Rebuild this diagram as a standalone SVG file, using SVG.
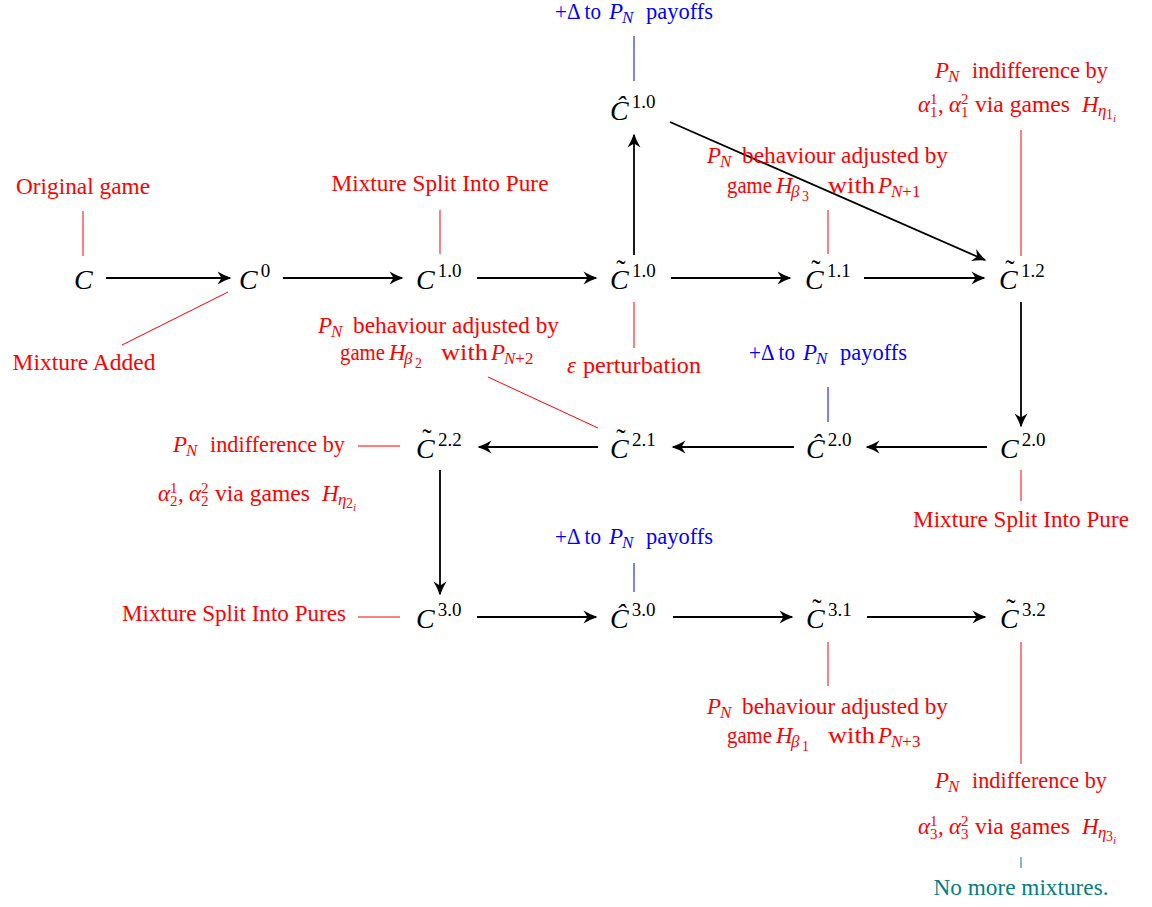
<svg xmlns="http://www.w3.org/2000/svg" width="1152" height="907" viewBox="0 0 1152 907">
<style>
text { font-family: "Liberation Serif", "Times New Roman", serif; }
.lbl { font-size: 23px; }
.r { fill: #ff0000; }
.b { fill: #0000ff; }
.t { fill: #008080; }
.it { font-style: italic; }
.lbl .sub { font-size: 17px; }
.lbl .sc { font-size: 15px; }
.lbl .ss { font-size: 14px; }
.lbl .sss { font-size: 11px; }
.node { fill: #000; }
.node .nc { font-size: 28px; font-style: italic; }
.node .sup { font-size: 19px; font-style: normal; }
.node .acc { font-size: 28px; font-style: normal; }
.mid { text-anchor: middle; }
.arr { stroke: #000; stroke-width: 1.8; fill: none; marker-end: url(#ah); }
.lr { stroke: #ff0000; stroke-width: 1; }
.lb { stroke: #0000ff; stroke-width: 1; }
.lt { stroke: #008080; stroke-width: 1; }
</style>
<defs>
<marker id="ah" markerUnits="userSpaceOnUse" viewBox="-15 -8 17 16" refX="0" refY="0" markerWidth="17" markerHeight="16" orient="auto">
<path d="M1.5,0 Q-6,-2.5 -12.5,-6.5 L-8.5,0 L-12.5,6.5 Q-6,2.5 1.5,0 Z" fill="#000"/>
</marker>
</defs>
<rect width="1152" height="907" fill="#fff"/>

<g id="connectors">
<line class="arr" x1="106" y1="278" x2="230" y2="278"/>
<line class="arr" x1="283" y1="278" x2="402" y2="278"/>
<line class="arr" x1="477" y1="278" x2="596" y2="278"/>
<line class="arr" x1="671" y1="278" x2="790" y2="278"/>
<line class="arr" x1="864" y1="278" x2="984" y2="278"/>
<line class="arr" x1="634" y1="255" x2="634" y2="135"/>
<line class="arr" x1="670" y1="122" x2="985" y2="260"/>
<line class="arr" x1="1021" y1="302" x2="1021" y2="426"/>
<line class="arr" x1="987" y1="447" x2="867" y2="447"/>
<line class="arr" x1="794" y1="447" x2="673" y2="447"/>
<line class="arr" x1="598" y1="447" x2="479" y2="447"/>
<line class="arr" x1="440" y1="470" x2="440" y2="594"/>
<line class="arr" x1="477" y1="617" x2="596" y2="617"/>
<line class="arr" x1="673" y1="617" x2="792" y2="617"/>
<line class="arr" x1="867" y1="617" x2="985" y2="617"/>
<line class="lr" x1="83" y1="211" x2="83" y2="256"/>
<line class="lr" x1="228" y1="292" x2="122" y2="345"/>
<line class="lr" x1="440" y1="210" x2="440" y2="254"/>
<line class="lb" x1="634" y1="36" x2="634" y2="81"/>
<line class="lr" x1="1021" y1="130" x2="1021" y2="256"/>
<line class="lr" x1="828" y1="210" x2="828" y2="254"/>
<line class="lr" x1="634" y1="302" x2="634" y2="348"/>
<line class="lr" x1="598" y1="428" x2="488" y2="377"/>
<line class="lb" x1="828" y1="387" x2="828" y2="422"/>
<line class="lr" x1="358" y1="446" x2="400" y2="446"/>
<line class="lr" x1="1021" y1="470" x2="1021" y2="501"/>
<line class="lb" x1="634" y1="563" x2="634" y2="592"/>
<line class="lr" x1="358" y1="617" x2="400" y2="617"/>
<line class="lr" x1="828" y1="642" x2="828" y2="686"/>
<line class="lr" x1="1021" y1="642" x2="1021" y2="764"/>
<line class="lt" x1="1021" y1="857" x2="1021" y2="868"/>
</g>

<!-- nodes -->
<g id="n-C" class="node"><text class="nc" x="74" y="289">C</text></g>
<g id="n-C0" class="node"><text class="nc" x="239" y="289">C<tspan class="sup" dx="3" dy="-12">0</tspan></text></g>
<g id="n-C10" class="node"><text class="nc" x="416" y="289">C<tspan class="sup" dx="3" dy="-12">1.0</tspan></text></g>
<g id="n-Ct10" class="node"><text class="nc" x="610" y="289">C<tspan class="acc" dx="-12.5" dy="-10">˜</tspan><tspan class="sup" dx="6.5" dy="-2">1.0</tspan></text></g>
<g id="n-Ct11" class="node"><text class="nc" x="805" y="289">C<tspan class="acc" dx="-12.5" dy="-10">˜</tspan><tspan class="sup" dx="6.5" dy="-2">1.1</tspan></text></g>
<g id="n-Ct12" class="node"><text class="nc" x="999" y="289">C<tspan class="acc" dx="-12.5" dy="-10">˜</tspan><tspan class="sup" dx="6.5" dy="-2">1.2</tspan></text></g>
<g id="n-Ch10" class="node"><text class="nc" x="610" y="120">Ĉ<tspan class="sup" dx="3" dy="-12">1.0</tspan></text></g>
<g id="n-C20" class="node"><text class="nc" x="1000" y="458">C<tspan class="sup" dx="3" dy="-12">2.0</tspan></text></g>
<g id="n-Ch20" class="node"><text class="nc" x="806" y="458">Ĉ<tspan class="sup" dx="3" dy="-12">2.0</tspan></text></g>
<g id="n-Ct21" class="node"><text class="nc" x="610" y="458">C<tspan class="acc" dx="-12.5" dy="-10">˜</tspan><tspan class="sup" dx="6.5" dy="-2">2.1</tspan></text></g>
<g id="n-Ct22" class="node"><text class="nc" x="416" y="458">C<tspan class="acc" dx="-12.5" dy="-10">˜</tspan><tspan class="sup" dx="6.5" dy="-2">2.2</tspan></text></g>
<g id="n-C30" class="node"><text class="nc" x="416" y="628">C<tspan class="sup" dx="3" dy="-12">3.0</tspan></text></g>
<g id="n-Ch30" class="node"><text class="nc" x="610" y="628">Ĉ<tspan class="sup" dx="3" dy="-12">3.0</tspan></text></g>
<g id="n-Ct31" class="node"><text class="nc" x="806" y="628">C<tspan class="acc" dx="-12.5" dy="-10">˜</tspan><tspan class="sup" dx="6.5" dy="-2">3.1</tspan></text></g>
<g id="n-Ct32" class="node"><text class="nc" x="1000" y="628">C<tspan class="acc" dx="-12.5" dy="-10">˜</tspan><tspan class="sup" dx="6.5" dy="-2">3.2</tspan></text></g>

<!-- labels -->
<g id="l-original" class="lbl r"><text class="mid" x="83" y="194" textLength="134" lengthAdjust="spacingAndGlyphs">Original game</text></g>
<g id="l-mixadded" class="lbl r"><text class="mid" x="84" y="370" textLength="143" lengthAdjust="spacingAndGlyphs">Mixture Added</text></g>
<g id="l-split1" class="lbl r"><text class="mid" x="440" y="191" textLength="217" lengthAdjust="spacingAndGlyphs">Mixture Split Into Pure</text></g>
<g id="l-split2" class="lbl r"><text class="mid" x="1021" y="527" textLength="216" lengthAdjust="spacingAndGlyphs">Mixture Split Into Pure</text></g>
<g id="l-split3" class="lbl r"><text class="mid" x="234" y="621" textLength="224" lengthAdjust="spacingAndGlyphs">Mixture Split Into Pures</text></g>
<g id="l-nomore" class="lbl t"><text class="mid" x="1021" y="895" textLength="175" lengthAdjust="spacingAndGlyphs">No more mixtures.</text></g>

<g id="l-eps" class="lbl r" transform="translate(567,373)">
<text class="it" x="0" y="0">ε</text><text x="16" y="0" textLength="118" lengthAdjust="spacingAndGlyphs">perturbation</text>
</g>

<g id="l-delta1" class="lbl b" transform="translate(555,19)">
<text x="0" y="0" textLength="46" lengthAdjust="spacingAndGlyphs">+Δ to</text><text class="it" x="54" y="0">P</text><text class="it sub" x="67" y="4">N</text><text x="91" y="0" textLength="67" lengthAdjust="spacingAndGlyphs">payoffs</text>
</g>
<g id="l-delta2" class="lbl b" transform="translate(749,360)">
<text x="0" y="0" textLength="46" lengthAdjust="spacingAndGlyphs">+Δ to</text><text class="it" x="54" y="0">P</text><text class="it sub" x="67" y="4">N</text><text x="91" y="0" textLength="67" lengthAdjust="spacingAndGlyphs">payoffs</text>
</g>
<g id="l-delta3" class="lbl b" transform="translate(555,544)">
<text x="0" y="0" textLength="46" lengthAdjust="spacingAndGlyphs">+Δ to</text><text class="it" x="54" y="0">P</text><text class="it sub" x="67" y="4">N</text><text x="91" y="0" textLength="67" lengthAdjust="spacingAndGlyphs">payoffs</text>
</g>

<g id="l-beta3" class="lbl r">
<g transform="translate(707,163)"><text class="it" x="0" y="0">P</text><text class="it sub" x="13" y="4">N</text><text x="35" y="0" textLength="206" lengthAdjust="spacingAndGlyphs">behaviour adjusted by</text></g>
<g transform="translate(727,193)"><text x="0" y="0" textLength="45" lengthAdjust="spacingAndGlyphs">game</text><text class="it" x="49" y="0">H</text><text class="it sub" x="64" y="4">β</text><text class="ss" x="75" y="8">3</text><text x="101" y="0" textLength="47" lengthAdjust="spacingAndGlyphs">with</text><text class="it" x="151" y="0">P</text><text class="sub" x="164" y="4"><tspan class="it">N</tspan>+1</text></g>
</g>
<g id="l-beta2" class="lbl r">
<g transform="translate(318,333)"><text class="it" x="0" y="0">P</text><text class="it sub" x="13" y="4">N</text><text x="35" y="0" textLength="206" lengthAdjust="spacingAndGlyphs">behaviour adjusted by</text></g>
<g transform="translate(340,360)"><text x="0" y="0" textLength="45" lengthAdjust="spacingAndGlyphs">game</text><text class="it" x="49" y="0">H</text><text class="it sub" x="64" y="4">β</text><text class="ss" x="75" y="8">2</text><text x="101" y="0" textLength="47" lengthAdjust="spacingAndGlyphs">with</text><text class="it" x="151" y="0">P</text><text class="sub" x="164" y="4"><tspan class="it">N</tspan>+2</text></g>
</g>
<g id="l-beta1" class="lbl r">
<g transform="translate(707,714)"><text class="it" x="0" y="0">P</text><text class="it sub" x="13" y="4">N</text><text x="35" y="0" textLength="206" lengthAdjust="spacingAndGlyphs">behaviour adjusted by</text></g>
<g transform="translate(727,743)"><text x="0" y="0" textLength="45" lengthAdjust="spacingAndGlyphs">game</text><text class="it" x="49" y="0">H</text><text class="it sub" x="64" y="4">β</text><text class="ss" x="75" y="8">1</text><text x="101" y="0" textLength="47" lengthAdjust="spacingAndGlyphs">with</text><text class="it" x="151" y="0">P</text><text class="sub" x="164" y="4"><tspan class="it">N</tspan>+3</text></g>
</g>

<g id="l-indiff1" class="lbl r">
<g transform="translate(935,78)"><text class="it" x="0" y="0">P</text><text class="it sub" x="13" y="4">N</text><text x="37" y="0" textLength="136" lengthAdjust="spacingAndGlyphs">indifference by</text></g>
<g transform="translate(918,112)"><text class="it" x="0" y="0">α</text><text class="sc" x="12" y="-8">1</text><text class="sc" x="12" y="5">1</text><text x="20" y="0">,</text><text class="it" x="31" y="0">α</text><text class="sc" x="43" y="-8">2</text><text class="sc" x="43" y="5">1</text><text x="57" y="0" textLength="95" lengthAdjust="spacingAndGlyphs">via games</text><text class="it" x="164" y="0">H</text><text class="it sub" x="180" y="4">η</text><text class="ss" x="188" y="7">1</text><text class="it sss" x="195" y="10">i</text></g>
</g>
<g id="l-indiff2" class="lbl r">
<g transform="translate(173,452)"><text class="it" x="0" y="0">P</text><text class="it sub" x="13" y="4">N</text><text x="37" y="0" textLength="135" lengthAdjust="spacingAndGlyphs">indifference by</text></g>
<g transform="translate(158,501)"><text class="it" x="0" y="0">α</text><text class="sc" x="12" y="-8">1</text><text class="sc" x="12" y="5">2</text><text x="20" y="0">,</text><text class="it" x="31" y="0">α</text><text class="sc" x="43" y="-8">2</text><text class="sc" x="43" y="5">2</text><text x="57" y="0" textLength="95" lengthAdjust="spacingAndGlyphs">via games</text><text class="it" x="164" y="0">H</text><text class="it sub" x="180" y="4">η</text><text class="ss" x="188" y="7">2</text><text class="it sss" x="195" y="10">i</text></g>
</g>
<g id="l-indiff3" class="lbl r">
<g transform="translate(935,788)"><text class="it" x="0" y="0">P</text><text class="it sub" x="13" y="4">N</text><text x="37" y="0" textLength="135" lengthAdjust="spacingAndGlyphs">indifference by</text></g>
<g transform="translate(918,834)"><text class="it" x="0" y="0">α</text><text class="sc" x="12" y="-8">1</text><text class="sc" x="12" y="5">3</text><text x="20" y="0">,</text><text class="it" x="31" y="0">α</text><text class="sc" x="43" y="-8">2</text><text class="sc" x="43" y="5">3</text><text x="57" y="0" textLength="95" lengthAdjust="spacingAndGlyphs">via games</text><text class="it" x="164" y="0">H</text><text class="it sub" x="180" y="4">η</text><text class="ss" x="188" y="7">3</text><text class="it sss" x="195" y="10">i</text></g>
</g>
</svg>
